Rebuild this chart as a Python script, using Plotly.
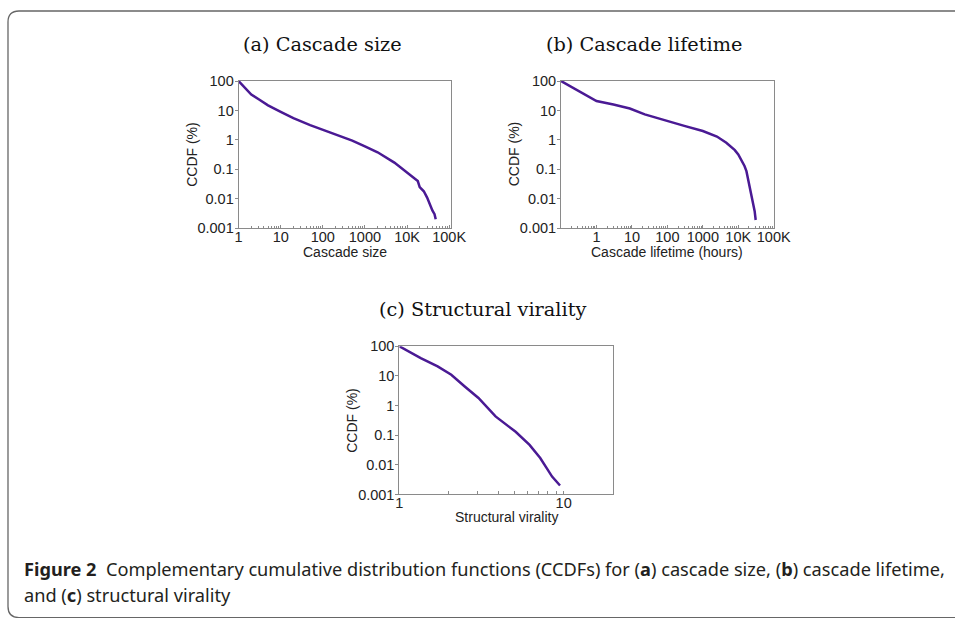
import plotly.graph_objects as go

# ---- data ----
size_x = [1, 1.5, 2, 3, 5, 10, 20, 50, 100, 200, 500, 1000, 2000, 5000, 10000,
          15000, 18000, 20000, 25000, 30000, 35000, 40000, 45000, 48000]
size_y = [100, 55, 35, 24, 15, 9, 5.5, 3.2, 2.2, 1.5, 0.95, 0.6, 0.38, 0.17, 0.08,
          0.05, 0.04, 0.025, 0.018, 0.011, 0.006, 0.004, 0.003, 0.002]

life_x = [0.1, 1, 3, 8.7, 23, 100, 300, 1000, 2500, 4600, 8000, 10000, 12000,
          15000, 17000, 20000, 23000, 26000, 29000, 31000]
life_y = [100, 21, 16, 11.7, 7.4, 4.3, 3.0, 2.0, 1.3, 0.8, 0.45, 0.32, 0.22,
          0.13, 0.087, 0.035, 0.014, 0.007, 0.0038, 0.0019]

vir_x = [1, 1.35, 1.71, 2.07, 2.5, 3.03, 3.85, 5.1, 6.2, 7.2, 7.9, 8.5, 9.5]
vir_y = [100, 40, 21, 11, 4.4, 1.8, 0.43, 0.13, 0.047, 0.017, 0.0076, 0.004, 0.002]

big_ticks = [1, 10, 100, 1000, 10000, 100000]
big_text = ["1", "10", "100", "1000", "10K", "100K"]
vir_ticks = [1, 10]
vir_text = ["1", "10"]
vir_minor = [2, 3, 4, 5, 6, 7, 8, 9, 20]
y_ticks = [100, 10, 1, 0.1, 0.01, 0.001]
y_text = ["100", "10", "1", "0.1", "0.01", "0.001"]

titles = ["(a) Cascade size", "(b) Cascade lifetime", "(c) Structural virality"]
xtitles = ["Cascade size", "Cascade lifetime (hours)", "Structural virality"]

# the page is photographed with a small fixed offset/scale; layout positions below are
# given in target-picture pixels and converted through that mapping
SX, AX, SY, AY = 0.98, 3.0, 0.9736, 7.0
W, H = 970, 627
LINE = "#4a1a94"
FRAME = "#8a8a8a"

def fx(px):
    return ((px - AX) / SX) / W

def fy(py):
    return 1 - ((py - AY) / SY) / H

def xd(a, b):
    return [fx(a), fx(b)]

def yd(top, bottom):
    return [fy(bottom), fy(top)]

fig = go.Figure()
fig.add_trace(go.Scatter(x=size_x, y=size_y, mode="lines", line=dict(color=LINE, width=2.5),
                         xaxis="x", yaxis="y", showlegend=False))
fig.add_trace(go.Scatter(x=life_x, y=life_y, mode="lines", line=dict(color=LINE, width=2.5),
                         xaxis="x2", yaxis="y2", showlegend=False))
fig.add_trace(go.Scatter(x=vir_x, y=vir_y, mode="lines", line=dict(color=LINE, width=2.5),
                         xaxis="x3", yaxis="y3", showlegend=False))

tickfont = dict(family="Liberation Sans, Arial", size=14.5, color="#222")
titlefont = dict(family="Liberation Sans, Arial", size=14, color="#222")

def xaxis(domain, anchor, rng, tv, tt, minor):
    return dict(domain=domain, anchor=anchor, type="log", range=rng,
                tickvals=tv, ticktext=tt, tickfont=tickfont, ticklabelstandoff=-5,
                showgrid=False, zeroline=False, showline=True, linecolor=FRAME,
                linewidth=1, mirror=True, ticks="inside", ticklen=3, tickcolor=FRAME,
                minor=minor)

def yaxis(domain, anchor):
    return dict(domain=domain, anchor=anchor, type="log", range=[-3, 2],
                tickvals=y_ticks, ticktext=y_text, tickfont=tickfont, ticklabelstandoff=-2,
                showgrid=False, zeroline=False, showline=True, linecolor=FRAME,
                linewidth=1, mirror=True, ticks="outside", ticklen=3, tickcolor=FRAME)

minor_big = dict(ticks="inside", ticklen=2, tickcolor=FRAME, showgrid=False, dtick="D1")
minor_vir = dict(ticks="inside", ticklen=3, tickcolor=FRAME, showgrid=False,
                 tickmode="array", tickvals=vir_minor)

fig.update_layout(
    width=W, height=H, margin=dict(l=0, r=0, t=0, b=0),
    paper_bgcolor="white", plot_bgcolor="white",
    xaxis=xaxis(xd(238, 451), "y", [0, 5.05], big_ticks, big_text, minor_big),
    yaxis=yaxis(yd(80, 227), "x"),
    xaxis2=xaxis(xd(561, 774), "y2", [-1, 5], big_ticks, big_text, minor_big),
    yaxis2=yaxis(yd(80, 227), "x2"),
    xaxis3=xaxis(xd(399, 613), "y3", [0, 1.3], vir_ticks, vir_text, minor_vir),
    yaxis3=yaxis(yd(345, 493), "x3"),
)

def label(txt, cx, cy, font, angle=0, anchor="center"):
    fig.add_annotation(text=txt, x=fx(cx), y=fy(cy), xref="paper", yref="paper",
                       showarrow=False, font=font, xanchor=anchor, yanchor="middle",
                       textangle=angle)

# axis titles
label(xtitles[0], 345, 251, titlefont)
label(xtitles[1], 667, 251, titlefont)
label(xtitles[2], 506, 516, titlefont)
label("CCDF (%)", 191, 153, titlefont, angle=-90)
label("CCDF (%)", 514, 153, titlefont, angle=-90)
label("CCDF (%)", 352, 419, titlefont, angle=-90)

serif = dict(family="DejaVu Serif, Liberation Serif, serif", size=19.3, color="#111")
label(titles[0], 322, 43, serif)
label(titles[1], 644, 43, serif)
label(titles[2], 482, 308, serif)

capfont = dict(family="Noto Sans, Open Sans", size=18.2, color="#231f20")
label("<b>Figure 2</b>  Complementary cumulative distribution functions (CCDFs) for (<b>a</b>) cascade size, (<b>b</b>) cascade lifetime,",
      21, 567, capfont, anchor="left")
label("and (<b>c</b>) structural virality", 21, 593, capfont, anchor="left")

# rounded outer frame (target pixel coordinates converted to paper fractions)
def P(px, py):
    return f"{fx(px):.5f},{fy(py):.5f}"

path = ("M " + P(1000, 10) + " L " + P(18, 10) + " Q " + P(7, 10) + " " + P(7, 21) +
        " L " + P(7, 605) + " Q " + P(7, 616) + " " + P(18, 616) + " L " + P(1000, 616))
fig.add_shape(type="path", path=path, xref="paper", yref="paper",
              line=dict(color="#666", width=1.3))

fig.write_html("out.html",
               post_script="document.body.style.margin='0';document.body.style.overflow='hidden';")
